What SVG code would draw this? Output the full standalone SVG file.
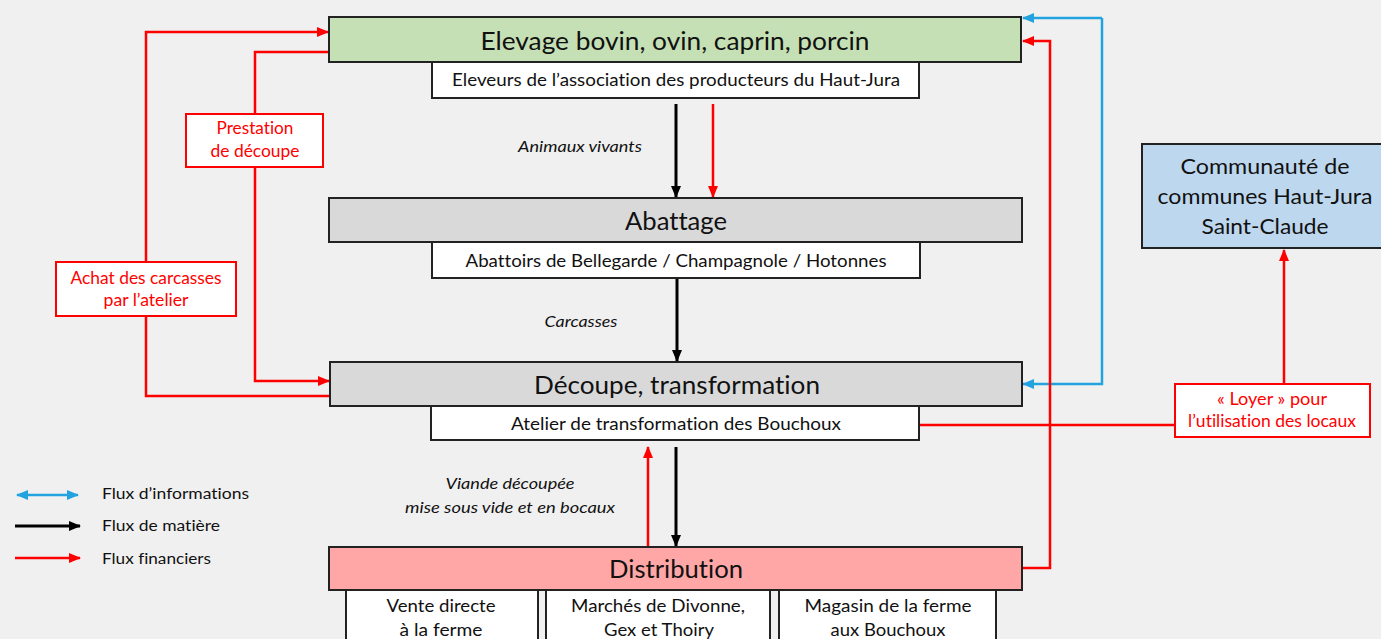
<svg xmlns="http://www.w3.org/2000/svg" width="1381" height="639" viewBox="0 0 1381 639">
<defs>
<style>
text{font-family:Lato,"Open Sans","Liberation Sans",sans-serif;fill:#111;font-variant-ligatures:none;}
.hd{font-size:25px;}
.sb{font-size:17.5px;}
.it{font-size:16px;font-style:italic;}
.rl{font-size:16.5px;fill:#ff0000;}
.lg{font-size:15.5px;}
.cc{font-size:21.5px;}
.box{stroke:#222;stroke-width:2;}
.wb{fill:#fff;stroke:#222;stroke-width:2;}
.rb{fill:#fff;stroke:#ff0000;stroke-width:2;}
.red{fill:none;stroke:#ff0000;stroke-width:2.5;}
.blk{fill:none;stroke:#000;stroke-width:3;}
.blu{fill:none;stroke:#22a3e0;stroke-width:2.5;}
</style>
<marker id="ar" markerUnits="userSpaceOnUse" markerWidth="12" markerHeight="12" viewBox="0 0 12 12" refX="11" refY="6" orient="auto"><path d="M0,1 L12,6 L0,11 Z" fill="#ff0000"/></marker>
<marker id="ak" markerUnits="userSpaceOnUse" markerWidth="12" markerHeight="12" viewBox="0 0 12 12" refX="11" refY="6" orient="auto"><path d="M0,1 L12,6 L0,11 Z" fill="#000"/></marker>
<marker id="ab" markerUnits="userSpaceOnUse" markerWidth="12" markerHeight="12" viewBox="0 0 12 12" refX="11" refY="6" orient="auto"><path d="M0,1 L12,6 L0,11 Z" fill="#22a3e0"/></marker>
<marker id="abs" markerUnits="userSpaceOnUse" markerWidth="12" markerHeight="12" viewBox="0 0 12 12" refX="1" refY="6" orient="auto"><path d="M12,1 L0,6 L12,11 Z" fill="#22a3e0"/></marker>
</defs>
<rect x="0" y="0" width="1381" height="639" fill="#f0f0f0"/>

<g id="connectors">
<path class="red" d="M330,396 H146 V32 H328" marker-end="url(#ar)"/>
<path class="red" d="M328,52 H255 V381 H329" marker-end="url(#ar)"/>
<path class="blk" d="M676,104 V197" marker-end="url(#ak)"/>
<path class="red" d="M713,104 V197" marker-end="url(#ar)"/>
<path class="blk" d="M677,278 V361" marker-end="url(#ak)"/>
<path class="red" d="M648,547 V447" marker-end="url(#ar)"/>
<path class="blk" d="M676,447 V546" marker-end="url(#ak)"/>
<path class="blu" d="M1102,18 H1023" marker-end="url(#ab)"/>
<path class="blu" d="M1102,18 V384 H1023" marker-end="url(#ab)"/>
<path class="red" d="M1022,568 H1050 V41 H1023" marker-end="url(#ar)"/>
<path class="red" d="M919,425 H1175"/>
<path class="red" d="M1284,384 V250" marker-end="url(#ar)"/>
</g>

<g id="elevage">
<rect class="box" x="329" y="17" width="692" height="45" fill="#c5e0b4"/>
<text class="hd" x="675" y="40" text-anchor="middle" dominant-baseline="central" textLength="389" lengthAdjust="spacingAndGlyphs">Elevage bovin, ovin, caprin, porcin</text>
</g>
<g id="eleveurs">
<rect class="wb" x="432" y="62" width="487" height="36"/>
<text class="sb" x="676" y="79" text-anchor="middle" dominant-baseline="central" textLength="448" lengthAdjust="spacingAndGlyphs">Eleveurs de l’association des producteurs du Haut-Jura</text>
</g>

<text class="it" x="580" y="145" text-anchor="middle" dominant-baseline="central" textLength="124" lengthAdjust="spacingAndGlyphs">Animaux vivants</text>

<g id="abattage">
<rect class="box" x="329" y="198" width="693" height="44" fill="#d9d9d9"/>
<text class="hd" x="676" y="220" text-anchor="middle" dominant-baseline="central" textLength="102" lengthAdjust="spacingAndGlyphs">Abattage</text>
</g>
<g id="abattoirs">
<rect class="wb" x="432" y="242" width="488" height="36"/>
<text class="sb" x="676" y="260" text-anchor="middle" dominant-baseline="central" textLength="421" lengthAdjust="spacingAndGlyphs">Abattoirs de Bellegarde / Champagnole / Hotonnes</text>
</g>

<text class="it" x="581" y="320" text-anchor="middle" dominant-baseline="central" textLength="73" lengthAdjust="spacingAndGlyphs">Carcasses</text>

<g id="decoupe">
<rect class="box" x="330" y="362" width="692" height="44" fill="#d9d9d9"/>
<text class="hd" x="677" y="384" text-anchor="middle" dominant-baseline="central" textLength="286" lengthAdjust="spacingAndGlyphs">Découpe, transformation</text>
</g>
<g id="atelier">
<rect class="wb" x="431" y="406" width="488" height="34"/>
<text class="sb" x="676" y="423" text-anchor="middle" dominant-baseline="central" textLength="330" lengthAdjust="spacingAndGlyphs">Atelier de transformation des Bouchoux</text>
</g>

<text class="it" x="510" y="482" text-anchor="middle" dominant-baseline="central" textLength="129" lengthAdjust="spacingAndGlyphs">Viande découpée</text>
<text class="it" x="510" y="506" text-anchor="middle" dominant-baseline="central" textLength="210" lengthAdjust="spacingAndGlyphs">mise sous vide et en bocaux</text>

<g id="distribution">
<rect class="box" x="329" y="547" width="693" height="43" fill="#ffa6a6"/>
<text class="hd" x="676" y="568" text-anchor="middle" dominant-baseline="central" textLength="134" lengthAdjust="spacingAndGlyphs">Distribution</text>
</g>
<g id="vente">
<rect class="wb" x="346" y="590" width="192" height="55"/>
<text class="sb" x="441" y="605" text-anchor="middle" dominant-baseline="central" textLength="109" lengthAdjust="spacingAndGlyphs">Vente directe</text>
<text class="sb" x="441" y="629" text-anchor="middle" dominant-baseline="central" textLength="83" lengthAdjust="spacingAndGlyphs">à la ferme</text>
</g>
<g id="marches">
<rect class="wb" x="546" y="590" width="224" height="55"/>
<text class="sb" x="658" y="605" text-anchor="middle" dominant-baseline="central" textLength="174" lengthAdjust="spacingAndGlyphs">Marchés de Divonne,</text>
<text class="sb" x="659" y="629" text-anchor="middle" dominant-baseline="central" textLength="110" lengthAdjust="spacingAndGlyphs">Gex et Thoiry</text>
</g>
<g id="magasin">
<rect class="wb" x="779" y="590" width="217" height="55"/>
<text class="sb" x="888" y="605" text-anchor="middle" dominant-baseline="central" textLength="167" lengthAdjust="spacingAndGlyphs">Magasin de la ferme</text>
<text class="sb" x="888" y="629" text-anchor="middle" dominant-baseline="central" textLength="115" lengthAdjust="spacingAndGlyphs">aux Bouchoux</text>
</g>

<g id="communaute">
<rect class="box" x="1142" y="144" width="245" height="104" fill="#bdd7ee"/>
<text class="cc" x="1265" y="166" text-anchor="middle" dominant-baseline="central" textLength="169" lengthAdjust="spacingAndGlyphs">Communauté de</text>
<text class="cc" x="1265" y="196" text-anchor="middle" dominant-baseline="central" textLength="215" lengthAdjust="spacingAndGlyphs">communes Haut-Jura</text>
<text class="cc" x="1265" y="226" text-anchor="middle" dominant-baseline="central" textLength="127" lengthAdjust="spacingAndGlyphs">Saint-Claude</text>
</g>

<g id="loyer">
<rect class="rb" x="1175" y="384" width="195" height="53"/>
<text class="rl" x="1272" y="399" text-anchor="middle" dominant-baseline="central" textLength="110" lengthAdjust="spacingAndGlyphs">« Loyer » pour</text>
<text class="rl" x="1272" y="421" text-anchor="middle" dominant-baseline="central" textLength="168" lengthAdjust="spacingAndGlyphs">l’utilisation des locaux</text>
</g>

<g id="prestation">
<rect class="rb" x="186" y="114" width="137" height="53"/>
<text class="rl" x="255" y="128" text-anchor="middle" dominant-baseline="central" textLength="77" lengthAdjust="spacingAndGlyphs">Prestation</text>
<text class="rl" x="255" y="151" text-anchor="middle" dominant-baseline="central" textLength="89" lengthAdjust="spacingAndGlyphs">de découpe</text>
</g>

<g id="achat">
<rect class="rb" x="56" y="262" width="180" height="54"/>
<text class="rl" x="146" y="278" text-anchor="middle" dominant-baseline="central" textLength="151" lengthAdjust="spacingAndGlyphs">Achat des carcasses</text>
<text class="rl" x="146" y="300" text-anchor="middle" dominant-baseline="central" textLength="85" lengthAdjust="spacingAndGlyphs">par l’atelier</text>
</g>

<g id="legend">
<path class="blu" d="M17,495 H78" stroke-width="3" marker-start="url(#abs)" marker-end="url(#ab)"/>
<text class="lg" x="102" y="493" dominant-baseline="central" textLength="147" lengthAdjust="spacingAndGlyphs">Flux d’informations</text>
<path class="blk" d="M15,526 H80" marker-end="url(#ak)"/>
<text class="lg" x="102" y="525" dominant-baseline="central" textLength="118" lengthAdjust="spacingAndGlyphs">Flux de matière</text>
<path class="red" d="M15,558 H80" stroke-width="3" marker-end="url(#ar)"/>
<text class="lg" x="102" y="558" dominant-baseline="central" textLength="109" lengthAdjust="spacingAndGlyphs">Flux financiers</text>
</g>
</svg>
